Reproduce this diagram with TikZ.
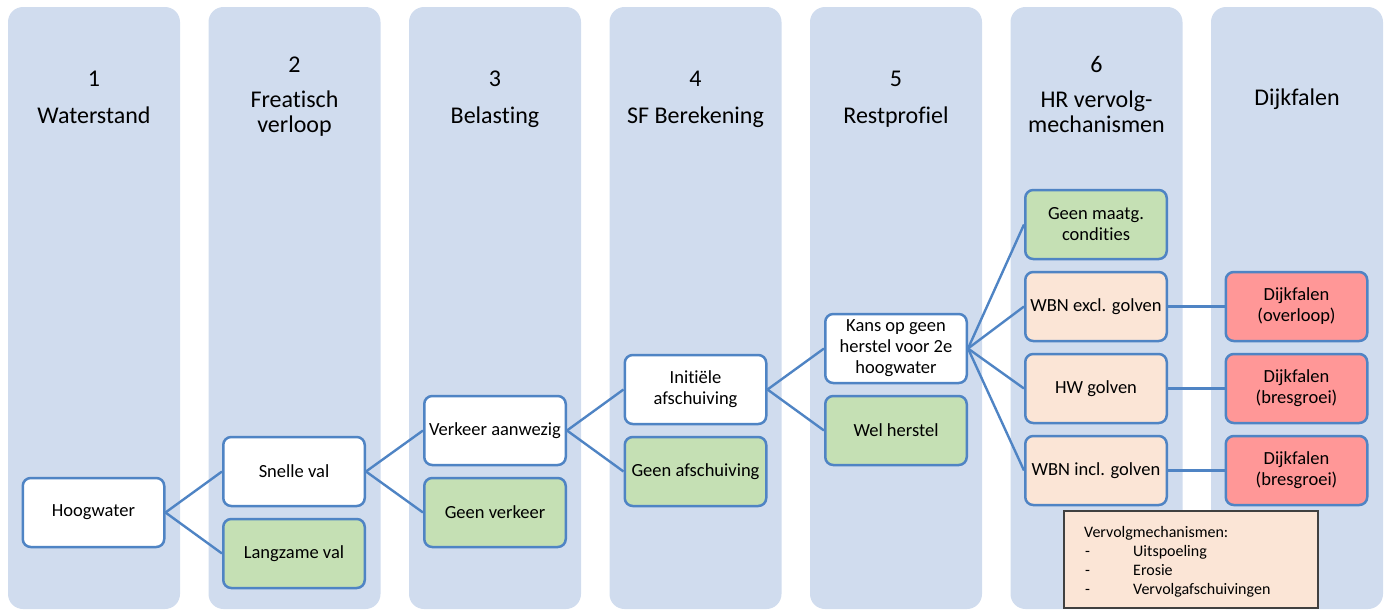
\documentclass[tikz,border=0pt]{standalone}
\usepackage{fontspec}
\setmainfont{Carlito}[Ligatures=NoCommon]
\definecolor{lane}{HTML}{D0DCEE}
\definecolor{edgeblue}{HTML}{4F84C4}
\definecolor{okgreen}{HTML}{C5E0B4}
\definecolor{peach}{HTML}{FBE5D6}
\definecolor{failred}{HTML}{FF9797}
\definecolor{legendline}{HTML}{404040}
\tikzset{
  lanebox/.style={fill=lane, draw=none, rounded corners=15pt},
  head/.style={anchor=base, font=\fontsize{24}{25}\selectfont, inner sep=0pt},
  stepbox/.style={draw=edgeblue, line width=2.5pt, rounded corners=8pt, fill=white,
    minimum width=141.5pt, minimum height=69pt, align=center, inner sep=2pt,
    font=\fontsize{18.5}{21}\selectfont},
  okbox/.style={stepbox, fill=okgreen},
  mechbox/.style={stepbox, fill=peach},
  failbox/.style={stepbox, fill=failred},
  link/.style={draw=edgeblue, line width=2.4pt},
  legtext/.style={anchor=base west, inner sep=0pt, font=\fontsize{16}{19}\selectfont}
}

\begin{document}

\begin{tikzpicture}[x=1pt,y=-1pt]
\useasboundingbox (0,0) rectangle (1387,611);
% lanes
\foreach \lx in {8,208.5,409,609.5,810,1010.5,1211}
  \fill[lanebox] (\lx,7) rectangle ++(172,602);
% lane headings
\node[head] (h1n) at (94,86) {1};
\node[head] (h1t) at (94,123) {Waterstand};
\node[head] (h2n) at (294.5,72) {2};
\node[head] (h2t) at (294.5,107) {Freatisch};
\node[head] (h2u) at (294.5,132) {verloop};
\node[head] (h3n) at (495,86) {3};
\node[head] (h3t) at (495,123) {Belasting};
\node[head] (h4n) at (695.5,86) {4};
\node[head] (h4t) at (695.5,123) {SF Berekening};
\node[head] (h5n) at (896,86) {5};
\node[head] (h5t) at (896,123) {Restprofiel};
\node[head] (h6n) at (1096.5,72) {6};
\node[head] (h6t) at (1096.5,107) {HR vervolg-};
\node[head] (h6u) at (1096.5,132) {mechanismen};
\node[head] (h7t) at (1297,105) {Dijkfalen};
% event tree
\node[stepbox] (hoog) at (93.5,512.5) {Hoogwater};
\node[stepbox] (snel) at (294,471.5) {Snelle val};
\node[okbox] (langz) at (294,553.5) {Langzame val};
\node[stepbox] (verk) at (495,430.5) {Verkeer aanwezig};
\node[okbox] (geenverk) at (495,512.5) {Geen verkeer};
\node[stepbox] (init) at (695.5,389.5) {Initiële\\afschuiving};
\node[okbox] (geenafs) at (695.5,471.5) {Geen afschuiving};
\node[stepbox] (kans) at (896,348.5) {Kans op geen\\herstel voor 2e\\hoogwater};
\node[okbox] (wel) at (896,430.5) {Wel herstel};
\node[okbox] (maatg) at (1096,224.5) {Geen maatg.\\condities};
\node[mechbox] (wbnex) at (1096,306.5) {WBN excl. golven};
\node[mechbox] (hw) at (1096,388.5) {HW golven};
\node[mechbox] (wbnin) at (1096,470.5) {WBN incl. golven};
\node[failbox] (df1) at (1296.5,306.5) {Dijkfalen\\(overloop)};
\node[failbox] (df2) at (1296.5,388.5) {Dijkfalen\\(bresgroei)};
\node[failbox] (df3) at (1296.5,470.5) {Dijkfalen\\(bresgroei)};
% connectors
\foreach \a/\b in {hoog/snel, hoog/langz, snel/verk, snel/geenverk, verk/init, verk/geenafs,
  init/kans, init/wel, kans/maatg, kans/wbnex, kans/hw, kans/wbnin,
  wbnex/df1, hw/df2, wbnin/df3}
  \draw[link] (\a.east) -- (\b.west);
% legend
\node[draw=legendline, line width=1.2pt, fill=peach, minimum width=254pt, minimum height=97pt,
  inner sep=0pt] (legend) at (1191,559.5) {};
\node[legtext] (lg0) at (1084,537) {Vervolgmechanismen:};
\node[legtext] (lg1d) at (1085,556) {-};
\node[legtext] (lg1) at (1133,556) {Uitspoeling};
\node[legtext] (lg2d) at (1085,575) {-};
\node[legtext] (lg2) at (1133,575) {Erosie};
\node[legtext] (lg3d) at (1085,594) {-};
\node[legtext] (lg3) at (1133,594) {Vervolgafschuivingen};
\end{tikzpicture}

\end{document}
